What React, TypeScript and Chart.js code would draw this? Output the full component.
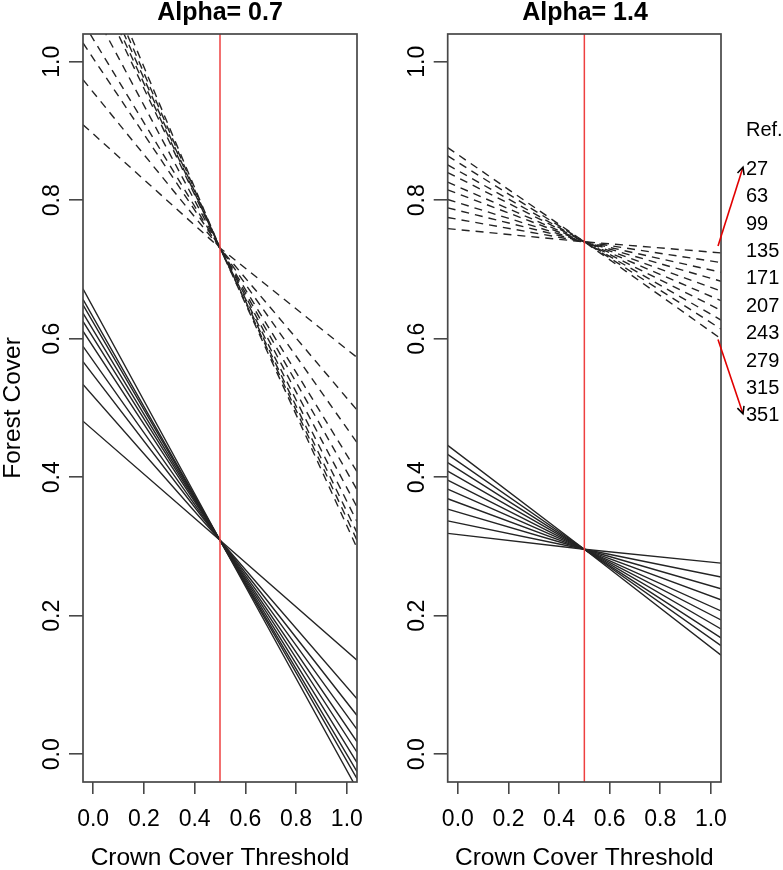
import React, { useEffect, useRef } from 'react';
import { Chart, registerables } from 'chart.js';

Chart.register(...registerables);

const FONT = '"Liberation Sans", Arial, Helvetica, sans-serif';

// ---- data ----
const refs = ['27', '63', '99', '135', '171', '207', '243', '279', '315', '351'];
const legendTitle = 'Ref.';
const xTicks = [0, 0.2, 0.4, 0.6, 0.8, 1.0];
const yTicks = [0, 0.2, 0.4, 0.6, 0.8, 1.0];
const xRange = [-0.04, 1.04];
const yRange = [-0.04, 1.04];
const threshold = 0.5;
// x positions at which every line is read: left plot edge, threshold, right plot edge
const lineX = [-0.04, 0.5, 1.04];

// Alpha = 0.7 (ordered Ref 27 ... 351)
const a07DashedLeft = [0.909, 0.974, 1.027, 1.057, 1.102, 1.146, 1.159, 1.172, 1.186, 1.202];
const a07DashedMid = 0.731;
const a07DashedRight = [0.573, 0.497, 0.45, 0.408, 0.382, 0.357, 0.336, 0.32, 0.309, 0.298];
const a07SolidLeft = [0.481, 0.534, 0.567, 0.589, 0.611, 0.625, 0.637, 0.649, 0.657, 0.672];
const a07SolidMid = 0.309;
const a07SolidRight = [0.136, 0.08, 0.056, 0.036, 0.018, 0.003, -0.012, -0.025, -0.035, -0.05];

// Alpha = 1.4 (ordered Ref 27 ... 351)
const a14DashedLeft = [0.759, 0.775, 0.789, 0.801, 0.815, 0.826, 0.84, 0.851, 0.864, 0.876];
const a14DashedMid = 0.74;
const a14DashedRight = [0.724, 0.71, 0.696, 0.683, 0.669, 0.655, 0.641, 0.627, 0.614, 0.6];
const a14SolidLeft = [0.319, 0.337, 0.354, 0.369, 0.383, 0.396, 0.409, 0.421, 0.433, 0.446];
const a14SolidMid = 0.296;
const a14SolidRight = [0.276, 0.256, 0.239, 0.223, 0.207, 0.194, 0.181, 0.168, 0.157, 0.143];

const legendTopValue = 0.9;
const arrowFromValues = [0.734, 0.599];

// ---- styling ----
const AXIS = '#474747';
const LINE = '#242424';
const RED = 'rgb(238,64,64)';

function lineSet(left: number[], mid: number, right: number[], dashed: boolean) {
  return left.map((l, i) => ({
    label: (dashed ? 'dashed ' : 'solid ') + refs[i],
    data: [
      { x: lineX[0], y: l },
      { x: lineX[1], y: mid },
      { x: lineX[2], y: right[i] },
    ],
    borderColor: LINE,
    borderWidth: 1.4,
    borderDash: dashed ? [8, 6] : [],
    pointRadius: 0,
    tension: 0,
    fill: false,
  }));
}

function redLine() {
  return {
    label: 'threshold',
    data: [
      { x: threshold, y: yRange[0] },
      { x: threshold, y: yRange[1] },
    ],
    borderColor: RED,
    borderWidth: 1.5,
    pointRadius: 0,
    fill: false,
  };
}

const framePlugin = {
  id: 'frame',
  afterDraw(chart: any) {
    const { ctx, chartArea } = chart;
    ctx.save();
    ctx.strokeStyle = AXIS;
    ctx.lineWidth = 1.7;
    ctx.strokeRect(chartArea.left, chartArea.top, chartArea.right - chartArea.left, chartArea.bottom - chartArea.top);
    ctx.restore();
  },
};

function drawArrow(ctx: CanvasRenderingContext2D, x0: number, y0: number, x1: number, y1: number) {
  ctx.strokeStyle = 'rgb(225,0,0)';
  ctx.lineWidth = 1.6;
  ctx.beginPath();
  ctx.moveTo(x0, y0);
  ctx.lineTo(x1, y1);
  ctx.stroke();
  const ang = Math.atan2(y1 - y0, x1 - x0);
  const len = 8;
  ctx.strokeStyle = '#000';
  ctx.lineWidth = 1.5;
  ctx.beginPath();
  ctx.moveTo(x1 - len * Math.cos(ang - Math.PI / 7), y1 - len * Math.sin(ang - Math.PI / 7));
  ctx.lineTo(x1, y1);
  ctx.lineTo(x1 - len * Math.cos(ang + Math.PI / 7), y1 - len * Math.sin(ang + Math.PI / 7));
  ctx.stroke();
}

const legendPlugin = {
  id: 'refLegend',
  afterDraw(chart: any) {
    const { ctx, chartArea, scales } = chart;
    const ys = scales.y;
    const lx = chartArea.right + 25;
    const ty = ys.getPixelForValue(legendTopValue);
    const first = ty + 38.3;
    const step = 27.4;
    ctx.save();
    ctx.font = `20px ${FONT}`;
    ctx.fillStyle = '#000';
    ctx.textBaseline = 'middle';
    ctx.textAlign = 'left';
    ctx.fillText(legendTitle, lx, ty);
    refs.forEach((r, i) => ctx.fillText(r, lx, first + i * step));
    const ax = chartArea.right - 3;
    drawArrow(ctx, ax, ys.getPixelForValue(arrowFromValues[0]), lx - 3, first - 2);
    drawArrow(ctx, ax, ys.getPixelForValue(arrowFromValues[1]), lx - 3, first + (refs.length - 1) * step - 2);
    ctx.restore();
  },
};

type PanelProps = {
  title: string;
  datasets: any[];
  showYTitle: boolean;
  left: number;
  width: number;
  yAxisWidth: number;
  rightPad: number;
  legend: boolean;
};

function Panel({ title, datasets, showYTitle, left, width, yAxisWidth, rightPad, legend }: PanelProps) {
  const ref = useRef<HTMLCanvasElement | null>(null);
  useEffect(() => {
    if (!ref.current) return;
    const chart = new Chart(ref.current, {
      type: 'line',
      data: { datasets },
      options: {
        responsive: false,
        animation: false,
        events: [],
        layout: { padding: 0 },
        plugins: {
          legend: { display: false },
          tooltip: { enabled: false },
          title: {
            display: true,
            text: title,
            color: '#000',
            font: { family: FONT, size: 25, weight: 'bold', lineHeight: 1 },
            padding: { top: 1, bottom: 8 },
          },
        },
        scales: {
          x: {
            type: 'linear',
            min: xRange[0],
            max: xRange[1],
            afterBuildTicks: (s: any) => {
              s.ticks = xTicks.map((v) => ({ value: v }));
            },
            afterFit: (s: any) => {
              s.height = 88;
            },
            grid: { drawOnChartArea: false, drawTicks: true, tickLength: 12, color: AXIS, lineWidth: 1.6 },
            border: { display: false },
            ticks: {
              color: '#000',
              font: { family: FONT, size: 23 },
              padding: 12,
              autoSkip: false,
              maxRotation: 0,
              minRotation: 0,
              callback: (v: any) => Number(v).toFixed(1),
            },
            title: {
              display: true,
              text: 'Crown Cover Threshold',
              color: '#000',
              font: { family: FONT, size: 24.5, lineHeight: 1 },
              padding: { top: 0, bottom: 0 },
            },
          },
          y: {
            type: 'linear',
            position: 'left',
            min: yRange[0],
            max: yRange[1],
            afterBuildTicks: (s: any) => {
              s.ticks = yTicks.map((v) => ({ value: v }));
            },
            afterFit: (s: any) => {
              s.width = yAxisWidth;
            },
            grid: { drawOnChartArea: false, drawTicks: true, tickLength: 14, color: AXIS, lineWidth: 1.6 },
            border: { display: false },
            ticks: {
              color: '#000',
              font: { family: FONT, size: 23 },
              padding: 0,
              minRotation: 90,
              maxRotation: 90,
              crossAlign: 'center',
              autoSkip: false,
              callback: (v: any) => Number(v).toFixed(1),
            },
            title: {
              display: showYTitle,
              text: 'Forest Cover',
              color: '#000',
              font: { family: FONT, size: 24.5, lineHeight: 1 },
              padding: { top: 1, bottom: 0 },
            },
          },
          yPad: {
            type: 'linear',
            position: 'right',
            display: true,
            grid: { display: false },
            border: { display: false },
            ticks: { display: false },
            afterFit: (s: any) => {
              s.width = rightPad;
            },
          },
        },
      } as any,
      plugins: legend ? [framePlugin, legendPlugin] : [framePlugin],
    });
    return () => chart.destroy();
  }, []);
  return (
    <canvas
      ref={ref}
      width={width}
      height={870}
      style={{ position: 'absolute', left, top: 0, width, height: 870 }}
    />
  );
}

export default function App() {
  const left = [redLine(), ...lineSet(a07DashedLeft, a07DashedMid, a07DashedRight, true), ...lineSet(a07SolidLeft, a07SolidMid, a07SolidRight, false)];
  const right = [redLine(), ...lineSet(a14DashedLeft, a14DashedMid, a14DashedRight, true), ...lineSet(a14SolidLeft, a14SolidMid, a14SolidRight, false)];
  return (
    <div style={{ position: 'absolute', left: 0, top: 0, width: 783, height: 870, background: '#fff' }}>
      <Panel title="Alpha= 1.4" datasets={right} showYTitle={false} left={387} width={396} yAxisWidth={60.7} rightPad={62} legend={true} />
      <Panel title="Alpha= 0.7" datasets={left} showYTitle={true} left={0} width={440} yAxisWidth={83} rightPad={83} legend={false} />
    </div>
  );
}
